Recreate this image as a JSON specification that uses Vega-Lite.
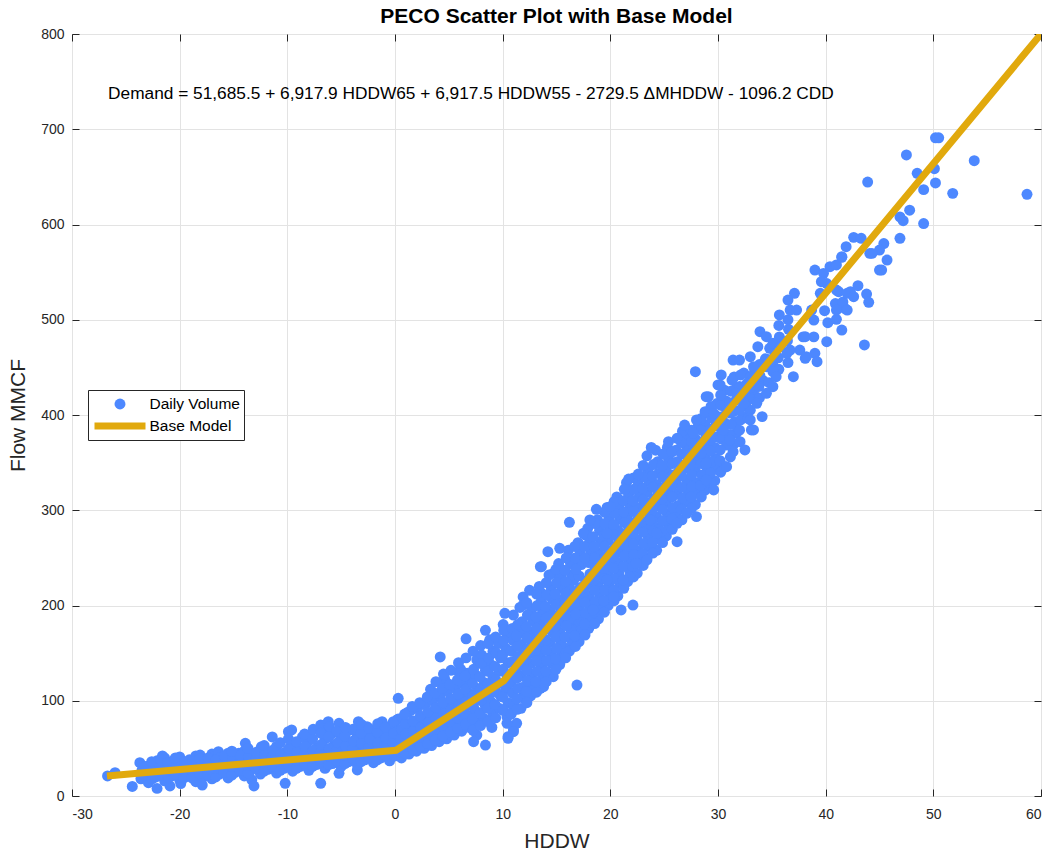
{
"$schema": "https://vega.github.io/schema/vega-lite/v6.json",
"width": 969, "height": 762,
"autosize": "none",
"padding": {"left": 72, "top": 34, "right": 14, "bottom": 61},
"background": "white",
"title": {"text": "PECO Scatter Plot with Base Model", "font": "Liberation Sans", "fontSize": 21, "fontWeight": "bold", "color": "#000000", "offset": 0, "anchor": "middle"},
"config": {
 "view": {"stroke": "#262626", "strokeWidth": 1},
 "axis": {"labelFont": "Liberation Sans", "labelFontSize": 14, "labelColor": "#262626", "titleFont": "Liberation Sans", "titleFontSize": 21, "titleFontWeight": "normal", "titleColor": "#262626", "gridColor": "#e3e3e3", "tickColor": "#262626", "domain": false}
},
"datasets": {
"model": [{"hddw": -26.75, "flow": 21}, {"hddw": 0.1, "flow": 48}, {"hddw": 10.1, "flow": 121}, {"hddw": 60, "flow": 800}],
"pts": [
{"hddw":-26.7,"flow":21},{"hddw":-26.0,"flow":24.5},{"hddw":-24.4,"flow":10},{"hddw":-23.6,"flow":18},{"hddw":-23.5,"flow":27},{"hddw":-23.7,"flow":35},{"hddw":-22.9,"flow":14},{"hddw":-22.8,"flow":24},{"hddw":-23.0,"flow":31},{"hddw":-22.6,"flow":34},{"hddw":-22.2,"flow":20},{"hddw":-22.3,"flow":29},{"hddw":-22.1,"flow":37},{"hddw":-22.1,"flow":8},{"hddw":-21.6,"flow":42},{"hddw":-21.4,"flow":16},{"hddw":-21.5,"flow":25},{"hddw":-21.3,"flow":33},{"hddw":-21.4,"flow":40},{"hddw":-20.9,"flow":10.5},{"hddw":-20.7,"flow":21},{"hddw":-20.8,"flow":30},{"hddw":-20.6,"flow":37},{"hddw":-20.0,"flow":17},{"hddw":-20.1,"flow":26},{"hddw":-19.9,"flow":34},{"hddw":-20.0,"flow":41},{"hddw":-19.9,"flow":13},{"hddw":-19.2,"flow":22},{"hddw":-19.3,"flow":31},{"hddw":-19.1,"flow":38},{"hddw":-18.5,"flow":15},{"hddw":-18.6,"flow":25},{"hddw":-18.4,"flow":33},{"hddw":-18.5,"flow":42},{"hddw":-18.1,"flow":43},{"hddw":-17.9,"flow":11.5},{"hddw":-17.8,"flow":20},{"hddw":-17.7,"flow":29},{"hddw":-17.9,"flow":37},{"hddw":-17.0,"flow":18},{"hddw":-17.1,"flow":27},{"hddw":-16.9,"flow":35},{"hddw":-17.0,"flow":44},{"hddw":-16.4,"flow":46.5},{"hddw":-16.3,"flow":23},{"hddw":-16.2,"flow":31},{"hddw":-16.4,"flow":40},{"hddw":-15.5,"flow":19},{"hddw":-15.6,"flow":28},{"hddw":-15.4,"flow":36},{"hddw":-15.5,"flow":45},{"hddw":-14.8,"flow":25},{"hddw":-14.9,"flow":33},{"hddw":-14.7,"flow":41},{"hddw":-14.5,"flow":44.8},{"hddw":-14.0,"flow":21},{"hddw":-14.1,"flow":30},{"hddw":-13.9,"flow":38},{"hddw":-13.9,"flow":55.3},{"hddw":-14.0,"flow":47},{"hddw":-13.3,"flow":17},{"hddw":-13.4,"flow":27},{"hddw":-13.2,"flow":35},{"hddw":-13.3,"flow":43},{"hddw":-13.1,"flow":10.5},{"hddw":-12.5,"flow":23},{"hddw":-12.6,"flow":32},{"hddw":-12.4,"flow":40},{"hddw":-12.4,"flow":51.8},{"hddw":-12.5,"flow":49},{"hddw":-11.8,"flow":28},{"hddw":-11.9,"flow":37},{"hddw":-11.7,"flow":45},{"hddw":-11.4,"flow":62},{"hddw":-11.0,"flow":24},{"hddw":-11.1,"flow":33},{"hddw":-10.9,"flow":41},{"hddw":-11.0,"flow":52},{"hddw":-10.3,"flow":29},{"hddw":-10.4,"flow":38},{"hddw":-10.2,"flow":46},{"hddw":-10.2,"flow":13.3},{"hddw":-9.9,"flow":67.5},{"hddw":-9.6,"flow":69.3},{"hddw":-9.5,"flow":26},{"hddw":-9.6,"flow":35},{"hddw":-9.4,"flow":43},{"hddw":-9.5,"flow":55},{"hddw":-8.8,"flow":31},{"hddw":-8.9,"flow":40},{"hddw":-8.7,"flow":49},{"hddw":-8.6,"flow":62},{"hddw":-7.9,"flow":64},{"hddw":-8.0,"flow":27},{"hddw":-8.1,"flow":36},{"hddw":-7.9,"flow":45},{"hddw":-8.0,"flow":58},{"hddw":-7.3,"flow":33},{"hddw":-7.4,"flow":42},{"hddw":-7.2,"flow":51},{"hddw":-6.9,"flow":13.3},{"hddw":-6.9,"flow":74.5},{"hddw":-6.2,"flow":78},{"hddw":-5.2,"flow":76.3},{"hddw":-6.5,"flow":29},{"hddw":-6.6,"flow":38},{"hddw":-6.4,"flow":47},{"hddw":-6.5,"flow":60},{"hddw":-6.6,"flow":71},{"hddw":-5.8,"flow":34},{"hddw":-5.9,"flow":44},{"hddw":-5.7,"flow":53},{"hddw":-5.8,"flow":66},{"hddw":-5.2,"flow":23.8},{"hddw":-5.0,"flow":31},{"hddw":-5.1,"flow":40},{"hddw":-4.9,"flow":49},{"hddw":-5.0,"flow":61},{"hddw":-4.3,"flow":36},{"hddw":-4.4,"flow":46},{"hddw":-4.2,"flow":55},{"hddw":-4.3,"flow":69},{"hddw":-3.5,"flow":27.3},{"hddw":-3.4,"flow":78},{"hddw":-2.6,"flow":72.8},{"hddw":-3.5,"flow":33},{"hddw":-3.6,"flow":42},{"hddw":-3.4,"flow":51},{"hddw":-3.5,"flow":63},{"hddw":-2.8,"flow":38},{"hddw":-2.9,"flow":48},{"hddw":-2.7,"flow":57},{"hddw":-2.8,"flow":67},{"hddw":-2.0,"flow":35},{"hddw":-2.1,"flow":44},{"hddw":-1.9,"flow":53},{"hddw":-2.0,"flow":65},{"hddw":-1.3,"flow":40},{"hddw":-1.4,"flow":50},{"hddw":-1.2,"flow":59},{"hddw":-1.3,"flow":70},{"hddw":-1.2,"flow":78},{"hddw":-0.5,"flow":37},{"hddw":-0.6,"flow":46},{"hddw":-0.4,"flow":55},{"hddw":-0.5,"flow":64},{"hddw":-0.3,"flow":75},{"hddw":0.2,"flow":79.8},{"hddw":0.3,"flow":102.6},{"hddw":0.3,"flow":80.8},{"hddw":0.0,"flow":42},{"hddw":0.1,"flow":52},{"hddw":-0.1,"flow":61},{"hddw":0.0,"flow":70},
{"hddw":-23.25,"flow":22},{"hddw":-23.2,"flow":31},{"hddw":-22.55,"flow":18},{"hddw":-22.5,"flow":27},{"hddw":-22.6,"flow":36},{"hddw":-21.8,"flow":22},{"hddw":-21.85,"flow":30},{"hddw":-21.75,"flow":38},{"hddw":-21.05,"flow":19},{"hddw":-21.0,"flow":27},{"hddw":-21.1,"flow":35},{"hddw":-20.35,"flow":23},{"hddw":-20.3,"flow":32},{"hddw":-20.4,"flow":40},{"hddw":-19.6,"flow":19},{"hddw":-19.65,"flow":28},{"hddw":-19.55,"flow":36},{"hddw":-18.85,"flow":19},{"hddw":-18.9,"flow":28},{"hddw":-18.8,"flow":36},{"hddw":-18.15,"flow":24},{"hddw":-18.2,"flow":33},{"hddw":-18.1,"flow":39},{"hddw":-17.4,"flow":22},{"hddw":-17.45,"flow":31},{"hddw":-17.35,"flow":40},{"hddw":-16.65,"flow":20},{"hddw":-16.7,"flow":29},{"hddw":-16.6,"flow":38},{"hddw":-15.9,"flow":25},{"hddw":-15.95,"flow":33},{"hddw":-15.85,"flow":42},{"hddw":-15.15,"flow":22},{"hddw":-15.2,"flow":31},{"hddw":-15.1,"flow":39},{"hddw":-15.15,"flow":47},{"hddw":-14.4,"flow":27},{"hddw":-14.45,"flow":35},{"hddw":-14.35,"flow":43},{"hddw":-13.65,"flow":24},{"hddw":-13.7,"flow":32},{"hddw":-13.6,"flow":41},{"hddw":-13.65,"flow":50},{"hddw":-12.9,"flow":29},{"hddw":-12.95,"flow":38},{"hddw":-12.85,"flow":46},{"hddw":-12.15,"flow":26},{"hddw":-12.2,"flow":35},{"hddw":-12.1,"flow":43},{"hddw":-12.15,"flow":53},{"hddw":-11.4,"flow":31},{"hddw":-11.45,"flow":40},{"hddw":-11.35,"flow":48},{"hddw":-10.65,"flow":27},{"hddw":-10.7,"flow":36},{"hddw":-10.6,"flow":44},{"hddw":-10.65,"flow":56},{"hddw":-9.9,"flow":32},{"hddw":-9.95,"flow":41},{"hddw":-9.85,"flow":50},{"hddw":-9.9,"flow":60},{"hddw":-9.15,"flow":29},{"hddw":-9.2,"flow":38},{"hddw":-9.1,"flow":46},{"hddw":-9.15,"flow":57},{"hddw":-8.4,"flow":34},{"hddw":-8.45,"flow":43},{"hddw":-8.35,"flow":52},{"hddw":-8.4,"flow":65},{"hddw":-7.65,"flow":31},{"hddw":-7.7,"flow":40},{"hddw":-7.6,"flow":48},{"hddw":-7.65,"flow":60},{"hddw":-7.6,"flow":70},{"hddw":-6.9,"flow":36},{"hddw":-6.95,"flow":45},{"hddw":-6.85,"flow":54},{"hddw":-6.9,"flow":66},{"hddw":-6.15,"flow":33},{"hddw":-6.2,"flow":42},{"hddw":-6.1,"flow":50},{"hddw":-6.15,"flow":62},{"hddw":-6.1,"flow":73},{"hddw":-5.4,"flow":37},{"hddw":-5.45,"flow":47},{"hddw":-5.35,"flow":56},{"hddw":-5.4,"flow":68},{"hddw":-4.65,"flow":34},{"hddw":-4.7,"flow":43},{"hddw":-4.6,"flow":52},{"hddw":-4.65,"flow":63},{"hddw":-4.6,"flow":72},{"hddw":-3.9,"flow":39},{"hddw":-3.95,"flow":49},{"hddw":-3.85,"flow":58},{"hddw":-3.9,"flow":70},{"hddw":-3.15,"flow":36},{"hddw":-3.2,"flow":45},{"hddw":-3.1,"flow":55},{"hddw":-3.15,"flow":66},{"hddw":-3.1,"flow":75},{"hddw":-2.4,"flow":41},{"hddw":-2.45,"flow":51},{"hddw":-2.35,"flow":60},{"hddw":-2.4,"flow":71},{"hddw":-1.65,"flow":38},{"hddw":-1.7,"flow":47},{"hddw":-1.6,"flow":56},{"hddw":-1.65,"flow":67},{"hddw":-1.6,"flow":76},{"hddw":-0.9,"flow":43},{"hddw":-0.95,"flow":52},{"hddw":-0.85,"flow":61},{"hddw":-0.9,"flow":72},{"hddw":-0.15,"flow":46},{"hddw":-0.2,"flow":56},{"hddw":-0.1,"flow":66},{"hddw":-0.15,"flow":78},
{"hddw":0.6,"flow":40},{"hddw":0.7,"flow":50},{"hddw":0.5,"flow":60},{"hddw":0.6,"flow":70},{"hddw":0.7,"flow":82},{"hddw":1.3,"flow":44},{"hddw":1.4,"flow":54},{"hddw":1.2,"flow":63},{"hddw":1.3,"flow":73},{"hddw":1.2,"flow":88},{"hddw":1.55,"flow":90.3},{"hddw":2.0,"flow":47},{"hddw":2.1,"flow":57},{"hddw":1.9,"flow":67},{"hddw":2.0,"flow":77},{"hddw":2.1,"flow":92},{"hddw":2.7,"flow":50},{"hddw":2.8,"flow":60},{"hddw":2.6,"flow":70},{"hddw":2.7,"flow":81},{"hddw":2.8,"flow":96},{"hddw":3.4,"flow":53},{"hddw":3.5,"flow":64},{"hddw":3.3,"flow":74},{"hddw":3.4,"flow":85},{"hddw":3.5,"flow":100},{"hddw":3.3,"flow":112},{"hddw":4.1,"flow":57},{"hddw":4.2,"flow":67},{"hddw":4.0,"flow":78},{"hddw":4.1,"flow":89},{"hddw":4.2,"flow":105},{"hddw":4.2,"flow":146},{"hddw":4.6,"flow":123.5},{"hddw":4.8,"flow":60},{"hddw":4.9,"flow":71},{"hddw":4.7,"flow":82},{"hddw":4.8,"flow":93},{"hddw":4.9,"flow":110},{"hddw":4.7,"flow":120},{"hddw":5.5,"flow":64},{"hddw":5.6,"flow":75},{"hddw":5.4,"flow":86},{"hddw":5.5,"flow":98},{"hddw":5.6,"flow":114},{"hddw":5.9,"flow":130.5},{"hddw":6.7,"flow":128.8},{"hddw":6.6,"flow":165},{"hddw":6.2,"flow":68},{"hddw":6.3,"flow":79},{"hddw":6.1,"flow":91},{"hddw":6.2,"flow":103},{"hddw":6.3,"flow":118},{"hddw":6.1,"flow":133},{"hddw":6.9,"flow":72},{"hddw":7.0,"flow":84},{"hddw":6.8,"flow":96},{"hddw":6.9,"flow":108},{"hddw":7.0,"flow":122},{"hddw":7.6,"flow":64},{"hddw":7.7,"flow":77},{"hddw":7.5,"flow":89},{"hddw":7.6,"flow":101},{"hddw":7.7,"flow":113},{"hddw":7.5,"flow":127},{"hddw":7.6,"flow":142.8},{"hddw":8.05,"flow":148},{"hddw":7.3,"flow":57},{"hddw":8.4,"flow":53.5},{"hddw":8.4,"flow":174},{"hddw":8.8,"flow":164},{"hddw":8.3,"flow":81},{"hddw":8.4,"flow":94},{"hddw":8.2,"flow":106},{"hddw":8.3,"flow":119},{"hddw":8.4,"flow":132},{"hddw":9.0,"flow":72},{"hddw":9.1,"flow":86},{"hddw":8.9,"flow":99},{"hddw":9.0,"flow":112},{"hddw":9.1,"flow":125},{"hddw":8.9,"flow":138},{"hddw":9.1,"flow":152},{"hddw":9.7,"flow":92},{"hddw":9.8,"flow":105},{"hddw":9.6,"flow":118},{"hddw":9.7,"flow":131},{"hddw":9.8,"flow":145},{"hddw":9.6,"flow":160},{"hddw":10.4,"flow":83},{"hddw":10.5,"flow":98},{"hddw":10.3,"flow":112},{"hddw":10.4,"flow":126},{"hddw":10.5,"flow":140},{"hddw":10.3,"flow":155},{"hddw":10.4,"flow":170},
{"hddw":0.95,"flow":45},{"hddw":0.9,"flow":55},{"hddw":1.0,"flow":65},{"hddw":0.95,"flow":76},{"hddw":0.9,"flow":86},{"hddw":1.65,"flow":49},{"hddw":1.6,"flow":58},{"hddw":1.7,"flow":68},{"hddw":1.65,"flow":79},{"hddw":1.6,"flow":94},{"hddw":2.35,"flow":52},{"hddw":2.3,"flow":62},{"hddw":2.4,"flow":72},{"hddw":2.35,"flow":84},{"hddw":2.3,"flow":98},{"hddw":3.05,"flow":55},{"hddw":3.0,"flow":66},{"hddw":3.1,"flow":77},{"hddw":3.05,"flow":88},{"hddw":3.0,"flow":104},{"hddw":3.75,"flow":59},{"hddw":3.7,"flow":70},{"hddw":3.8,"flow":81},{"hddw":3.75,"flow":93},{"hddw":3.7,"flow":108},{"hddw":3.8,"flow":120},{"hddw":4.45,"flow":63},{"hddw":4.4,"flow":74},{"hddw":4.5,"flow":86},{"hddw":4.45,"flow":98},{"hddw":4.4,"flow":113},{"hddw":4.5,"flow":128},{"hddw":5.15,"flow":67},{"hddw":5.1,"flow":78},{"hddw":5.2,"flow":90},{"hddw":5.15,"flow":102},{"hddw":5.1,"flow":117},{"hddw":5.2,"flow":132},{"hddw":5.85,"flow":71},{"hddw":5.8,"flow":82},{"hddw":5.9,"flow":94},{"hddw":5.85,"flow":107},{"hddw":5.8,"flow":122},{"hddw":5.9,"flow":140},{"hddw":6.55,"flow":75},{"hddw":6.5,"flow":87},{"hddw":6.6,"flow":99},{"hddw":6.55,"flow":112},{"hddw":6.5,"flow":126},{"hddw":6.6,"flow":145},{"hddw":7.25,"flow":69},{"hddw":7.2,"flow":81},{"hddw":7.3,"flow":93},{"hddw":7.25,"flow":105},{"hddw":7.2,"flow":118},{"hddw":7.3,"flow":133},{"hddw":7.25,"flow":152},{"hddw":7.95,"flow":74},{"hddw":7.9,"flow":87},{"hddw":8.0,"flow":100},{"hddw":7.95,"flow":112},{"hddw":7.9,"flow":125},{"hddw":8.0,"flow":139},{"hddw":7.95,"flow":158},{"hddw":8.65,"flow":78},{"hddw":8.6,"flow":92},{"hddw":8.7,"flow":105},{"hddw":8.65,"flow":118},{"hddw":8.6,"flow":131},{"hddw":8.7,"flow":145},{"hddw":8.65,"flow":160},{"hddw":9.35,"flow":82},{"hddw":9.3,"flow":96},{"hddw":9.4,"flow":109},{"hddw":9.35,"flow":122},{"hddw":9.3,"flow":136},{"hddw":9.4,"flow":150},{"hddw":9.35,"flow":167},{"hddw":10.05,"flow":90},{"hddw":10.0,"flow":104},{"hddw":10.1,"flow":118},{"hddw":10.05,"flow":133},{"hddw":10.0,"flow":148},{"hddw":10.1,"flow":163},{"hddw":10.05,"flow":180},
{"hddw":10.5,"flow":62.3},{"hddw":11.0,"flow":69.3},{"hddw":10.2,"flow":191.8},{"hddw":11.0,"flow":190},{"hddw":10.1,"flow":174},{"hddw":11.8,"flow":174},{"hddw":11.9,"flow":209},{"hddw":12.5,"flow":216},{"hddw":13.6,"flow":213},{"hddw":13.6,"flow":240.7},{"hddw":11.9,"flow":200.5},{"hddw":15.6,"flow":144.6},{"hddw":16.9,"flow":116.5},{"hddw":14.4,"flow":142.8},{"hddw":14.1,"flow":128.8},{"hddw":14.7,"flow":125.2},{"hddw":13.8,"flow":114.8},{"hddw":12.5,"flow":114.8},{"hddw":11.9,"flow":104.3},{"hddw":11.0,"flow":90.3},{"hddw":11.3,"flow":76.3},{"hddw":10.4,"flow":76.3},{"hddw":11.0,"flow":67.5},{"hddw":10.5,"flow":60.6},{"hddw":16.9,"flow":181.3},{"hddw":17.3,"flow":174.3},{"hddw":16.4,"flow":176},{"hddw":15.5,"flow":156.8},{"hddw":15.9,"flow":155},{"hddw":18.7,"flow":195.3},{"hddw":18.1,"flow":202.3},{"hddw":14.7,"flow":233.8},{"hddw":15.3,"flow":239},{"hddw":16.6,"flow":226.8},{"hddw":16.9,"flow":240.7},
{"hddw":10.8,"flow":86},{"hddw":11.0,"flow":97},{"hddw":10.9,"flow":108},{"hddw":10.8,"flow":119},{"hddw":11.0,"flow":130},{"hddw":10.9,"flow":141},{"hddw":10.8,"flow":152},{"hddw":11.0,"flow":163},{"hddw":10.9,"flow":176},
{"hddw":11.7,"flow":92},{"hddw":11.9,"flow":103},{"hddw":11.8,"flow":114},{"hddw":11.7,"flow":126},{"hddw":11.9,"flow":137},{"hddw":11.8,"flow":148},{"hddw":11.7,"flow":159},{"hddw":11.9,"flow":171},{"hddw":11.8,"flow":183},{"hddw":11.6,"flow":198},
{"hddw":12.6,"flow":105},{"hddw":12.8,"flow":116},{"hddw":12.7,"flow":127},{"hddw":12.6,"flow":139},{"hddw":12.8,"flow":150},{"hddw":12.7,"flow":161},{"hddw":12.6,"flow":172},{"hddw":12.8,"flow":184},{"hddw":12.7,"flow":196},
{"hddw":13.5,"flow":113},{"hddw":13.7,"flow":124},{"hddw":13.6,"flow":136},{"hddw":13.5,"flow":147},{"hddw":13.7,"flow":158},{"hddw":13.6,"flow":170},{"hddw":13.5,"flow":181},{"hddw":13.7,"flow":193},{"hddw":13.6,"flow":205},{"hddw":13.4,"flow":220},
{"hddw":14.4,"flow":128},{"hddw":14.6,"flow":139},{"hddw":14.5,"flow":150},{"hddw":14.4,"flow":161},{"hddw":14.6,"flow":172},{"hddw":14.5,"flow":184},{"hddw":14.4,"flow":195},{"hddw":14.6,"flow":207},{"hddw":14.5,"flow":219},{"hddw":14.3,"flow":232},
{"hddw":15.3,"flow":138},{"hddw":15.5,"flow":149},{"hddw":15.4,"flow":160},{"hddw":15.3,"flow":172},{"hddw":15.5,"flow":183},{"hddw":15.4,"flow":195},{"hddw":15.3,"flow":206},{"hddw":15.5,"flow":218},{"hddw":15.4,"flow":230},{"hddw":15.2,"flow":244},
{"hddw":16.2,"flow":152},{"hddw":16.4,"flow":163},{"hddw":16.3,"flow":175},{"hddw":16.2,"flow":186},{"hddw":16.4,"flow":197},{"hddw":16.3,"flow":209},{"hddw":16.2,"flow":220},{"hddw":16.4,"flow":232},{"hddw":16.3,"flow":244},{"hddw":16.1,"flow":258},
{"hddw":17.1,"flow":162},{"hddw":17.3,"flow":185},{"hddw":17.1,"flow":196},{"hddw":17.3,"flow":208},{"hddw":17.2,"flow":219},{"hddw":17.1,"flow":231},{"hddw":17.3,"flow":243},{"hddw":17.2,"flow":255},{"hddw":17.0,"flow":266},
{"hddw":18.0,"flow":176},{"hddw":18.2,"flow":187},{"hddw":18.1,"flow":199},{"hddw":18.0,"flow":210},{"hddw":18.2,"flow":222},{"hddw":18.1,"flow":233},{"hddw":18.0,"flow":245},{"hddw":18.2,"flow":256},{"hddw":18.1,"flow":268},{"hddw":17.9,"flow":281},
{"hddw":18.9,"flow":186},{"hddw":19.1,"flow":198},{"hddw":19.0,"flow":209},{"hddw":18.9,"flow":221},{"hddw":19.1,"flow":232},{"hddw":19.0,"flow":244},{"hddw":18.9,"flow":255},{"hddw":19.1,"flow":267},{"hddw":19.0,"flow":279},{"hddw":18.8,"flow":290},
{"hddw":19.8,"flow":200},{"hddw":20.0,"flow":211},{"hddw":19.9,"flow":223},{"hddw":19.8,"flow":234},{"hddw":20.0,"flow":246},{"hddw":19.9,"flow":257},{"hddw":19.8,"flow":269},{"hddw":20.0,"flow":280},{"hddw":19.9,"flow":292},{"hddw":19.7,"flow":303},
{"hddw":20.7,"flow":210},{"hddw":20.9,"flow":222},{"hddw":20.8,"flow":233},{"hddw":20.7,"flow":245},{"hddw":20.9,"flow":256},{"hddw":20.8,"flow":268},{"hddw":20.7,"flow":279},{"hddw":20.9,"flow":291},{"hddw":20.8,"flow":303},{"hddw":20.6,"flow":314},
{"hddw":21.6,"flow":225},{"hddw":21.8,"flow":236},{"hddw":21.7,"flow":248},{"hddw":21.6,"flow":259},{"hddw":21.8,"flow":271},{"hddw":21.7,"flow":282},{"hddw":21.6,"flow":294},{"hddw":21.8,"flow":305},{"hddw":21.7,"flow":317},{"hddw":21.5,"flow":329},
{"hddw":22.5,"flow":234},{"hddw":22.7,"flow":246},{"hddw":22.6,"flow":257},{"hddw":22.5,"flow":269},{"hddw":22.7,"flow":280},{"hddw":22.6,"flow":292},{"hddw":22.5,"flow":303},{"hddw":22.7,"flow":315},{"hddw":22.6,"flow":327},
{"hddw":23.4,"flow":250},{"hddw":23.6,"flow":261},{"hddw":23.5,"flow":273},{"hddw":23.4,"flow":284},{"hddw":23.6,"flow":296},{"hddw":23.5,"flow":307},{"hddw":23.4,"flow":319},{"hddw":23.6,"flow":330},{"hddw":23.5,"flow":342},
{"hddw":24.3,"flow":258},{"hddw":24.5,"flow":270},{"hddw":24.4,"flow":281},{"hddw":24.3,"flow":293},{"hddw":24.5,"flow":304},{"hddw":24.4,"flow":316},{"hddw":24.3,"flow":327},{"hddw":24.5,"flow":339},{"hddw":24.4,"flow":351},{"hddw":24.2,"flow":363},
{"hddw":25.2,"flow":273},{"hddw":25.4,"flow":285},{"hddw":25.3,"flow":296},{"hddw":25.2,"flow":308},{"hddw":25.4,"flow":319},{"hddw":25.3,"flow":331},{"hddw":25.2,"flow":342},{"hddw":25.4,"flow":354},{"hddw":25.3,"flow":366},
{"hddw":26.1,"flow":294},{"hddw":26.3,"flow":305},{"hddw":26.2,"flow":317},{"hddw":26.1,"flow":328},{"hddw":26.3,"flow":340},{"hddw":26.2,"flow":351},{"hddw":26.1,"flow":363},
{"hddw":27.0,"flow":309},{"hddw":27.2,"flow":321},{"hddw":27.1,"flow":332},{"hddw":27.0,"flow":344},{"hddw":27.2,"flow":355},{"hddw":27.1,"flow":367},{"hddw":27.0,"flow":378},
{"hddw":27.9,"flow":306},{"hddw":28.1,"flow":318},{"hddw":28.0,"flow":329},{"hddw":27.9,"flow":341},{"hddw":28.1,"flow":352},{"hddw":28.0,"flow":364},{"hddw":27.9,"flow":375},{"hddw":28.1,"flow":387},
{"hddw":28.8,"flow":321},{"hddw":29.0,"flow":344},{"hddw":28.8,"flow":356},{"hddw":29.0,"flow":367},{"hddw":28.9,"flow":379},{"hddw":28.8,"flow":390},{"hddw":29.0,"flow":402},
{"hddw":29.7,"flow":331},{"hddw":29.9,"flow":343},{"hddw":29.8,"flow":354},{"hddw":29.7,"flow":366},{"hddw":29.9,"flow":377},{"hddw":29.8,"flow":389},{"hddw":29.7,"flow":400},{"hddw":29.9,"flow":412},
{"hddw":30.6,"flow":346},{"hddw":30.7,"flow":380},{"hddw":30.6,"flow":392},{"hddw":30.8,"flow":403},{"hddw":30.7,"flow":415},{"hddw":30.6,"flow":426},
{"hddw":31.5,"flow":370},{"hddw":31.7,"flow":381},{"hddw":31.6,"flow":393},{"hddw":31.5,"flow":404},{"hddw":31.7,"flow":416},{"hddw":31.6,"flow":427},{"hddw":31.5,"flow":440},
{"hddw":32.4,"flow":398},{"hddw":32.6,"flow":409},{"hddw":32.5,"flow":421},{"hddw":32.4,"flow":444},{"hddw":33.3,"flow":423},{"hddw":33.5,"flow":435},{"hddw":33.4,"flow":446},{"hddw":34.2,"flow":436},{"hddw":34.4,"flow":459},{"hddw":35.1,"flow":452},{"hddw":35.3,"flow":464},
{"hddw":11.35,"flow":91},{"hddw":11.3,"flow":102},{"hddw":11.4,"flow":113},{"hddw":11.35,"flow":124},{"hddw":11.3,"flow":135},{"hddw":11.4,"flow":146},{"hddw":11.35,"flow":157},{"hddw":11.3,"flow":168},{"hddw":11.4,"flow":180},
{"hddw":12.25,"flow":98},{"hddw":12.2,"flow":110},{"hddw":12.3,"flow":121},{"hddw":12.25,"flow":132},{"hddw":12.2,"flow":144},{"hddw":12.3,"flow":155},{"hddw":12.25,"flow":166},{"hddw":12.2,"flow":178},{"hddw":12.3,"flow":190},{"hddw":12.25,"flow":203},
{"hddw":13.15,"flow":109},{"hddw":13.1,"flow":120},{"hddw":13.2,"flow":131},{"hddw":13.15,"flow":142},{"hddw":13.1,"flow":153},{"hddw":13.2,"flow":165},{"hddw":13.15,"flow":176},{"hddw":13.1,"flow":188},{"hddw":13.2,"flow":200},{"hddw":13.15,"flow":212},
{"hddw":14.05,"flow":120},{"hddw":14.0,"flow":131},{"hddw":14.1,"flow":142},{"hddw":14.05,"flow":153},{"hddw":14.0,"flow":164},{"hddw":14.1,"flow":176},{"hddw":14.05,"flow":187},{"hddw":14.0,"flow":199},{"hddw":14.1,"flow":211},{"hddw":14.05,"flow":224},
{"hddw":14.95,"flow":133},{"hddw":14.9,"flow":144},{"hddw":15.0,"flow":155},{"hddw":14.95,"flow":167},{"hddw":14.9,"flow":178},{"hddw":15.0,"flow":189},{"hddw":14.95,"flow":201},{"hddw":14.9,"flow":212},{"hddw":15.0,"flow":224},{"hddw":14.95,"flow":238},
{"hddw":15.85,"flow":145},{"hddw":15.8,"flow":167},{"hddw":15.9,"flow":179},{"hddw":15.85,"flow":190},{"hddw":15.8,"flow":202},{"hddw":15.9,"flow":213},{"hddw":15.85,"flow":225},{"hddw":15.8,"flow":237},{"hddw":15.9,"flow":250},
{"hddw":16.75,"flow":157},{"hddw":16.7,"flow":168},{"hddw":16.8,"flow":191},{"hddw":16.75,"flow":203},{"hddw":16.7,"flow":214},{"hddw":16.8,"flow":238},{"hddw":16.75,"flow":250},{"hddw":16.7,"flow":262},
{"hddw":17.65,"flow":169},{"hddw":17.6,"flow":180},{"hddw":17.7,"flow":192},{"hddw":17.65,"flow":203},{"hddw":17.6,"flow":215},{"hddw":17.7,"flow":226},{"hddw":17.65,"flow":250},{"hddw":17.6,"flow":262},{"hddw":17.7,"flow":274},
{"hddw":18.55,"flow":181},{"hddw":18.5,"flow":193},{"hddw":18.6,"flow":204},{"hddw":18.55,"flow":216},{"hddw":18.5,"flow":227},{"hddw":18.6,"flow":239},{"hddw":18.55,"flow":250},{"hddw":18.5,"flow":262},{"hddw":18.6,"flow":286},
{"hddw":19.45,"flow":193},{"hddw":19.4,"flow":205},{"hddw":19.5,"flow":216},{"hddw":19.45,"flow":228},{"hddw":19.4,"flow":239},{"hddw":19.5,"flow":251},{"hddw":19.45,"flow":262},{"hddw":19.4,"flow":274},{"hddw":19.5,"flow":286},{"hddw":19.45,"flow":298},
{"hddw":20.35,"flow":205},{"hddw":20.3,"flow":216},{"hddw":20.4,"flow":228},{"hddw":20.35,"flow":239},{"hddw":20.3,"flow":251},{"hddw":20.4,"flow":262},{"hddw":20.35,"flow":274},{"hddw":20.3,"flow":285},{"hddw":20.4,"flow":297},{"hddw":20.35,"flow":309},
{"hddw":21.25,"flow":218},{"hddw":21.2,"flow":241},{"hddw":21.3,"flow":252},{"hddw":21.25,"flow":264},{"hddw":21.2,"flow":275},{"hddw":21.3,"flow":287},{"hddw":21.25,"flow":298},{"hddw":21.2,"flow":310},{"hddw":21.3,"flow":322},
{"hddw":22.15,"flow":230},{"hddw":22.1,"flow":241},{"hddw":22.2,"flow":253},{"hddw":22.15,"flow":264},{"hddw":22.1,"flow":276},{"hddw":22.2,"flow":287},{"hddw":22.15,"flow":299},{"hddw":22.1,"flow":310},{"hddw":22.2,"flow":322},{"hddw":22.15,"flow":334},
{"hddw":23.05,"flow":242},{"hddw":23.0,"flow":254},{"hddw":23.1,"flow":265},{"hddw":23.05,"flow":277},{"hddw":23.0,"flow":288},{"hddw":23.1,"flow":300},{"hddw":23.05,"flow":311},{"hddw":23.0,"flow":323},{"hddw":23.1,"flow":335},{"hddw":23.05,"flow":347},
{"hddw":23.95,"flow":255},{"hddw":23.9,"flow":266},{"hddw":24.0,"flow":278},{"hddw":23.95,"flow":289},{"hddw":23.9,"flow":301},{"hddw":24.0,"flow":312},{"hddw":23.95,"flow":324},{"hddw":23.9,"flow":336},{"hddw":24.0,"flow":348},
{"hddw":24.85,"flow":266},{"hddw":24.8,"flow":278},{"hddw":24.9,"flow":289},{"hddw":24.85,"flow":301},{"hddw":24.8,"flow":312},{"hddw":24.9,"flow":324},{"hddw":24.85,"flow":335},{"hddw":24.8,"flow":347},{"hddw":24.9,"flow":359},
{"hddw":25.75,"flow":280},{"hddw":25.7,"flow":291},{"hddw":25.8,"flow":303},{"hddw":25.75,"flow":314},{"hddw":25.7,"flow":326},{"hddw":25.8,"flow":337},{"hddw":25.75,"flow":349},{"hddw":25.7,"flow":361},
{"hddw":26.65,"flow":290},{"hddw":26.6,"flow":301},{"hddw":26.7,"flow":313},{"hddw":26.65,"flow":324},{"hddw":26.6,"flow":336},{"hddw":26.7,"flow":347},{"hddw":26.65,"flow":359},{"hddw":26.6,"flow":371},{"hddw":26.7,"flow":383},
{"hddw":27.55,"flow":302},{"hddw":27.5,"flow":314},{"hddw":27.6,"flow":325},{"hddw":27.55,"flow":337},{"hddw":27.5,"flow":348},{"hddw":27.6,"flow":360},{"hddw":27.55,"flow":372},{"hddw":27.5,"flow":384},
{"hddw":28.45,"flow":314},{"hddw":28.4,"flow":326},{"hddw":28.5,"flow":337},{"hddw":28.45,"flow":349},{"hddw":28.4,"flow":360},{"hddw":28.5,"flow":372},{"hddw":28.45,"flow":384},{"hddw":28.4,"flow":396},
{"hddw":29.35,"flow":328},{"hddw":29.3,"flow":339},{"hddw":29.4,"flow":351},{"hddw":29.35,"flow":362},{"hddw":29.3,"flow":385},{"hddw":29.4,"flow":397},{"hddw":29.35,"flow":409},
{"hddw":30.25,"flow":340},{"hddw":30.2,"flow":352},{"hddw":30.3,"flow":375},{"hddw":30.25,"flow":386},{"hddw":30.2,"flow":398},{"hddw":30.3,"flow":410},{"hddw":30.25,"flow":421},
{"hddw":31.15,"flow":356},{"hddw":31.1,"flow":379},{"hddw":31.2,"flow":390},{"hddw":31.15,"flow":402},{"hddw":31.1,"flow":413},{"hddw":31.2,"flow":425},
{"hddw":32.05,"flow":372},{"hddw":32.0,"flow":384},{"hddw":32.1,"flow":395},{"hddw":32.05,"flow":418},{"hddw":32.0,"flow":430},{"hddw":32.1,"flow":442},
{"hddw":33.0,"flow":405},{"hddw":32.95,"flow":417},{"hddw":33.05,"flow":429},{"hddw":33.0,"flow":440},{"hddw":33.85,"flow":418},{"hddw":33.8,"flow":430},{"hddw":33.9,"flow":441},{"hddw":33.85,"flow":453},{"hddw":34.75,"flow":434},{"hddw":34.7,"flow":458},{"hddw":34.8,"flow":470},{"hddw":35.65,"flow":448},{"hddw":35.6,"flow":460},{"hddw":35.7,"flow":482},{"hddw":35.65,"flow":494},{"hddw":36.5,"flow":455},{"hddw":36.45,"flow":478},{"hddw":36.55,"flow":490},{"hddw":36.5,"flow":500},
{"hddw":16.2,"flow":287.3},{"hddw":14.2,"flow":256.5},{"hddw":15.3,"flow":260},{"hddw":13.5,"flow":240.7},{"hddw":18.7,"flow":301},{"hddw":20.0,"flow":303.7},{"hddw":18.1,"flow":289.8},{"hddw":17.5,"flow":275.8},{"hddw":18.4,"flow":272.3},{"hddw":19.7,"flow":275.8},{"hddw":21.7,"flow":332.8},{"hddw":22.6,"flow":338},{"hddw":23.4,"flow":357.2},{"hddw":23.8,"flow":365.9},{"hddw":25.4,"flow":372},{"hddw":26.2,"flow":375.5},{"hddw":26.9,"flow":389.5},{"hddw":28.0,"flow":394.8},{"hddw":28.8,"flow":403.5},{"hddw":29.1,"flow":419.2},{"hddw":30.2,"flow":431.5},{"hddw":26.2,"flow":267},{"hddw":28.0,"flow":293.3},{"hddw":32.5,"flow":363.3},{"hddw":33.3,"flow":384.3},{"hddw":32.8,"flow":396.5},{"hddw":32.0,"flow":405},{"hddw":21.0,"flow":195.3},{"hddw":22.1,"flow":200.5},{"hddw":18.4,"flow":195.3},{"hddw":20.3,"flow":209.2},{"hddw":19.7,"flow":226.8},{"hddw":22.4,"flow":244.2},{"hddw":23.4,"flow":247.8},{"hddw":21.8,"flow":230.2},{"hddw":21.2,"flow":226.8},{"hddw":24.3,"flow":275.8},{"hddw":23.7,"flow":289.8},{"hddw":27.1,"flow":296.8},{"hddw":26.2,"flow":286.3},{"hddw":29.6,"flow":321.3},{"hddw":28.9,"flow":331.8},{"hddw":28.9,"flow":349.3},{"hddw":30.8,"flow":345.7},{"hddw":31.4,"flow":361.5},{"hddw":30.8,"flow":368.5},
{"hddw":50.2,"flow":691},{"hddw":50.5,"flow":691},{"hddw":47.5,"flow":673},{"hddw":53.8,"flow":667},{"hddw":43.9,"flow":644.6},{"hddw":48.5,"flow":653.7},{"hddw":50.1,"flow":658.6},{"hddw":49.1,"flow":636.6},{"hddw":50.2,"flow":643.6},{"hddw":51.8,"flow":632.7},{"hddw":58.7,"flow":631.7},{"hddw":47.8,"flow":615},{"hddw":46.9,"flow":608},{"hddw":47.2,"flow":604},{"hddw":49.1,"flow":601},{"hddw":46.9,"flow":585.5},{"hddw":42.6,"flow":586.5},{"hddw":43.3,"flow":585.5},{"hddw":41.9,"flow":576.7},{"hddw":45.4,"flow":580},{"hddw":44.1,"flow":569.7},{"hddw":45.0,"flow":573.2},{"hddw":45.7,"flow":562.7},{"hddw":45.0,"flow":552.2},{"hddw":41.5,"flow":565.5},{"hddw":39.0,"flow":552.2},{"hddw":40.4,"flow":555.7},{"hddw":39.8,"flow":548.7},{"hddw":40.1,"flow":538},{"hddw":39.5,"flow":527.8},{"hddw":41.2,"flow":529.5},{"hddw":42.3,"flow":529.5},{"hddw":43.0,"flow":535.8},{"hddw":43.8,"flow":527},{"hddw":44.0,"flow":518.3},{"hddw":40.9,"flow":517},{"hddw":41.8,"flow":511.8},{"hddw":41.6,"flow":518.7},{"hddw":39.9,"flow":509.5},{"hddw":38.9,"flow":499.7},{"hddw":40.2,"flow":496.9},{"hddw":41.0,"flow":500.4},{"hddw":41.5,"flow":489.2},{"hddw":40.1,"flow":477},{"hddw":43.6,"flow":473.5},{"hddw":37.9,"flow":482},{"hddw":38.9,"flow":482},{"hddw":39.0,"flow":464.8},{"hddw":38.1,"flow":459.5},{"hddw":39.2,"flow":456},
{"hddw":41.0,"flow":557.5},{"hddw":41.5,"flow":566.2},{"hddw":45.2,"flow":552.2},{"hddw":44.3,"flow":569.7},{"hddw":39.6,"flow":540},{"hddw":42.0,"flow":527.8},{"hddw":42.6,"flow":524.2},{"hddw":41.0,"flow":531.2},{"hddw":41.0,"flow":510.2},{"hddw":42.0,"flow":510.2},{"hddw":37.1,"flow":527.8},{"hddw":36.5,"flow":520.7},{"hddw":36.7,"flow":510.2},{"hddw":37.3,"flow":510.2},{"hddw":38.7,"flow":510.2},{"hddw":35.7,"flow":505},{"hddw":38.1,"flow":482.2},{"hddw":37.6,"flow":468.2},{"hddw":36.7,"flow":468.2},{"hddw":38.2,"flow":461.2},{"hddw":33.9,"flow":487.5},{"hddw":34.5,"flow":482.2},{"hddw":33.7,"flow":471.7},{"hddw":35.1,"flow":475.3},{"hddw":35.8,"flow":471.7},{"hddw":36.4,"flow":464.8},{"hddw":31.4,"flow":457.7},{"hddw":32.0,"flow":457.7},{"hddw":33.0,"flow":461.2},{"hddw":33.3,"flow":450.7},{"hddw":34.5,"flow":450.7},{"hddw":35.1,"flow":445.5},{"hddw":35.4,"flow":440.2},{"hddw":37.0,"flow":440.2},{"hddw":35.1,"flow":429.7},{"hddw":34.5,"flow":422.8},{"hddw":27.9,"flow":445.5},{"hddw":30.3,"flow":442},{"hddw":30.0,"flow":431.5},{"hddw":31.3,"flow":436.7},{"hddw":32.7,"flow":433.3},{"hddw":31.7,"flow":422.8},{"hddw":32.4,"flow":412.3},{"hddw":33.6,"flow":412.3},{"hddw":34.1,"flow":398.3},{"hddw":33.0,"flow":394.8},{"hddw":33.1,"flow":384.3},{"hddw":31.1,"flow":373.8},{"hddw":30.5,"flow":384.3},{"hddw":29.6,"flow":401.7},{"hddw":28.9,"flow":419.2},{"hddw":27.7,"flow":380.8},{"hddw":29.3,"flow":373.8},{"hddw":30.2,"flow":363.3}
]
},
"layer": [
 {
  "data": {"name": "pts"},
  "mark": {"type": "circle", "size": 120, "opacity": 1},
  "encoding": {
   "x": {"field": "hddw", "type": "quantitative", "scale": {"domain": [-30, 60], "nice": false, "zero": false}, "axis": {"orient": "bottom", "title": "HDDW", "values": [-30,-20,-10,0,10,20,30,40,50,60], "labelExpr": "replace(datum.label, '\u2212', '-')", "tickSize": -7, "labelPadding": 18, "titlePadding": 9, "grid": true}},
   "y": {"field": "flow", "type": "quantitative", "scale": {"domain": [0, 800], "nice": false, "zero": false}, "axis": {"orient": "left", "title": "Flow MMCF", "values": [0,100,200,300,400,500,600,700,800], "tickSize": -7, "labelPadding": 15, "titlePadding": 12, "grid": true}},
   "color": {"datum": "Daily Volume", "type": "nominal", "scale": {"domain": ["Daily Volume", "Base Model"], "range": ["#4d88ff", "#e1a90d"]},
    "legend": {"title": null, "orient": "none", "legendX": 16, "legendY": 356, "strokeColor": "#262626", "fillColor": "white", "padding": 4, "symbolSize": 2601, "clipHeight": 20, "rowPadding": 2, "labelFont": "Liberation Sans", "labelFontSize": 15.5, "labelColor": "#000000", "labelOffset": 42,
     "encoding": {"symbols": {
       "x": {"value": 28},
       "shape": {"value": {"expr": "datum.value === 'Daily Volume' ? 'circle' : 'stroke'"}},
       "size": {"value": {"expr": "datum.value === 'Daily Volume' ? 120 : 2601"}},
       "strokeWidth": {"value": {"expr": "datum.value === 'Daily Volume' ? 0 : 7"}},
       "fill": {"value": {"expr": "datum.value === 'Daily Volume' ? '#4d88ff' : 'transparent'"}},
       "stroke": {"value": {"expr": "datum.value === 'Daily Volume' ? 'transparent' : '#e1a90d'"}},
       "opacity": {"value": 1}
     }}}
   }
  }
 },
 {
  "data": {"name": "model"},
  "mark": {"type": "line", "strokeWidth": 7, "strokeCap": "butt", "clip": true},
  "encoding": {
   "x": {"field": "hddw", "type": "quantitative", "axis": {"orient": "top", "title": null, "labels": false, "grid": false, "values": [-30,-20,-10,0,10,20,30,40,50,60], "tickSize": -7}},
   "y": {"field": "flow", "type": "quantitative", "axis": {"orient": "right", "title": null, "labels": false, "grid": false, "values": [0,100,200,300,400,500,600,700,800], "tickSize": -7}},
   "color": {"datum": "Base Model", "type": "nominal"}
  }
 },
 {
  "data": {"values": [{}]},
  "mark": {"type": "text", "align": "left", "baseline": "middle", "font": "Liberation Sans", "fontSize": 17.3, "color": "#000000"},
  "encoding": {
   "x": {"datum": -26.65, "type": "quantitative", "axis": null},
   "y": {"datum": 737, "type": "quantitative", "axis": null},
   "text": {"value": "Demand = 51,685.5 + 6,917.9 HDDW65 + 6,917.5 HDDW55 - 2729.5 ΔMHDDW - 1096.2 CDD"}
  }
 }
],
"resolve": {"axis": {"x": "independent", "y": "independent"}}
}
